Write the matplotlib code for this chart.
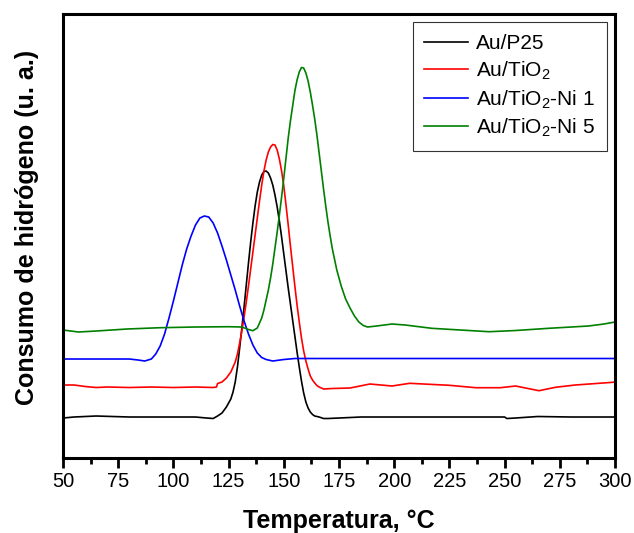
import numpy as np
import matplotlib.pyplot as plt
from matplotlib.ticker import MultipleLocator

plt.rcParams['font.family'] = ['Liberation Sans', 'DejaVu Sans']
plt.rcParams['mathtext.fontset'] = 'custom'
plt.rcParams['mathtext.rm'] = 'Liberation Sans'

labels = ['Au/P25', 'Au/TiO$_2$', 'Au/TiO$_2$-Ni 1', 'Au/TiO$_2$-Ni 5']
colors = ['black', 'red', 'blue', 'green']

# Au/P25
x_p25 = [50, 55, 65, 80, 95, 110, 115, 118, 120, 122, 124, 126, 127, 128, 129, 130,
         131, 132, 133, 134, 135, 136, 137, 138, 139, 140, 141, 142, 143, 144, 145,
         146, 147, 148, 149, 150, 151, 152, 153, 154, 155, 156, 157, 158, 159, 160,
         161, 162, 163, 164, 166, 168, 170, 175, 185, 200, 225, 240, 250, 251, 255,
         265, 280, 300]
y_p25 = [40, 41, 42, 41, 41, 41, 40, 39.5, 42, 45, 51, 59, 66, 76, 91, 110,
         130, 151, 173, 195, 216, 235, 252, 266, 276, 283, 286.5, 287, 285, 280, 273,
         263, 251, 237, 221, 204, 187, 170, 154, 138, 122, 106, 91, 77, 65, 56,
         50, 46, 43.5, 42, 41, 39.5, 39.5, 40, 41, 41, 41, 41, 41, 39.5, 40,
         41.5, 41, 41]

# Au/TiO2
x_tio2 = [50, 55, 60, 65, 70, 80, 90, 100, 110, 118, 119.5, 120, 122, 124, 126, 128,
          129, 130, 131, 132, 133, 134, 135, 136, 137, 138, 139, 140, 141, 142, 143,
          144, 145, 146, 147, 148, 149, 150, 151, 152, 153, 154, 155, 156, 157, 158,
          159, 160, 161, 162, 163, 164, 165, 166, 168, 172, 180, 189, 199, 207, 225,
          237, 248, 255, 265.6, 273, 282, 299, 300]
y_tio2 = [73, 73, 71.5, 70.5, 71, 70.5, 71, 70.5, 71, 70.5, 71, 74.5, 76, 80, 86, 96,
          104, 115, 127, 141, 156, 172, 189, 206, 223, 240, 257, 273, 287, 298, 306,
          311, 313.5, 313, 308, 299, 287, 272, 253, 233, 212, 192, 172, 153, 136, 120,
          107, 97, 89, 82, 78, 75, 72.5, 71, 69, 69.5, 70, 74, 72, 74.7, 72.7,
          70.3, 70.3, 72, 67.3, 70.7, 73, 75.7, 76]

# Au/TiO2-Ni 1
x_ni1 = [50, 70, 80, 84, 87, 90, 92, 94, 96, 98, 100, 102, 104, 106, 108, 110, 112,
         114, 116, 118, 120, 122, 124, 126, 128, 130, 132, 134, 136, 138, 140, 142,
         145, 150, 155, 200, 300]
y_ni1 = [99, 99, 99, 98, 97, 99, 104, 112, 124, 140, 157, 175, 193, 209, 222, 233, 240,
         242, 241, 235, 225, 212, 198, 183, 168, 152, 137, 124, 113, 105, 100.5, 98.5,
         97, 98.5, 99.5, 99.5, 99.5]

# Au/TiO2-Ni 5
x_ni5 = [50, 57, 65, 79, 94, 110, 125, 131, 134, 136, 138, 140, 141, 142, 143, 144,
         145, 146, 147, 148, 149, 150, 151, 152, 153, 154, 155, 156, 157, 158, 159,
         160, 161, 162, 163, 164, 165, 166, 167, 168, 169, 170, 171, 172, 174, 176,
         178, 180, 182, 184, 186, 188, 192, 199, 205, 217, 230, 243, 255, 270,
         288, 295, 300]
y_ni5 = [128, 126, 127, 129, 130.3, 131, 131.3, 131, 128.5, 127.3, 130, 140, 148, 158,
         168, 180, 194, 210, 226, 243, 261, 280, 300, 320, 337, 352, 367, 378, 386,
         390.5, 390, 385, 377, 366, 353, 339, 323, 305, 287, 269, 252, 236, 222, 209,
         188, 172, 159, 150, 142, 136, 132.5, 131, 132, 134, 133, 129.7, 128,
         126.3, 127.5, 129.7, 132, 134, 136]

fig = plt.figure(figsize=(6.34, 5.33), dpi=100)
ax = fig.add_axes([0.0994, 0.1407, 0.8706, 0.833])

series = [(x_p25, y_p25), (x_tio2, y_tio2), (x_ni1, y_ni1), (x_ni5, y_ni5)]
for (xs, ys), lab, c in zip(series, labels, colors):
    ax.plot(xs, ys, color=c, lw=1.2, label=lab)

ax.set_xlim(50, 300)
ax.set_ylim(0, 444)
ax.xaxis.set_major_locator(MultipleLocator(25))
ax.xaxis.set_minor_locator(MultipleLocator(12.5))
ax.set_yticks([])
ax.tick_params(axis='x', which='major', direction='out', length=7, width=2,
               labelsize=14.5, pad=3)
ax.tick_params(axis='x', which='minor', direction='out', length=4, width=2)
for s in ax.spines.values():
    s.set_linewidth(2.2)

ax.set_xlabel('Temperatura, °C', fontsize=18, fontweight='bold', labelpad=13)
ax.set_ylabel('Consumo de hidrógeno (u. a.)', fontsize=18, fontweight='bold')
ax.yaxis.set_label_coords(-0.043, 0.52)

leg = ax.legend(loc='upper right', fontsize=15, frameon=True, fancybox=False,
                edgecolor='black', handlelength=2.1, borderaxespad=0.4,
                labelspacing=0.3, handletextpad=0.4, borderpad=0.55)
leg.get_frame().set_linewidth(0.8)

fig.savefig('out.png', dpi=100)
